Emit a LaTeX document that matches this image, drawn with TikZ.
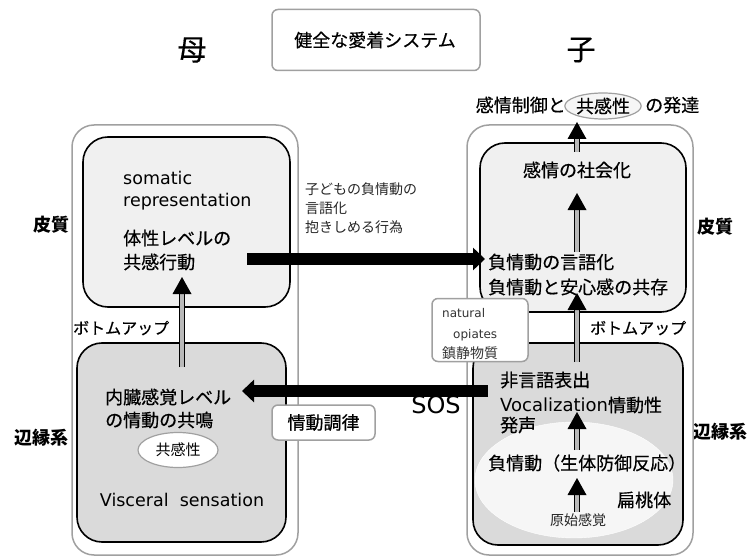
\documentclass[tikz,border=0pt]{standalone}
\usepackage{fontspec}
\setmainfont{Noto Sans CJK JP}
\newfontfamily\jpmed{Noto Sans CJK JP}[FakeBold=0.5]
\newfontfamily\latfont{DejaVu Sans}
\usetikzlibrary{arrows.meta,calc,shapes.geometric}
\definecolor{lightfill}{HTML}{F0F0F0}
\definecolor{darkfill}{HTML}{DADADA}
\definecolor{framegray}{HTML}{A0A0A0}
\definecolor{ellfill}{HTML}{F6F6F6}
\newcommand\dblarrow[2]{%
  \draw[shaftline] (#1) -- ($(#2)+(0,16)$);
  \fill ($(#2)+(-9.5,17)$) -- (#2) -- ($(#2)+(9.5,17)$) -- cycle;}
\tikzset{
  outerbox/.style={draw=framegray, line width=1.5pt, rounded corners=22pt, fill=white},
  innerbox/.style={draw=black, line width=1.6pt, rounded corners=25pt},
  labelbox/.style={draw=framegray, line width=1.5pt, rounded corners=6pt, fill=white, inner sep=0pt},
  bigtxt/.style={font=\jpmed\fontsize{18}{20}\selectfont, inner sep=0pt},
  lattxt/.style={font=\latfont\fontsize{17.5}{20}\selectfont, inner sep=0pt},
  midtxt/.style={font=\jpmed\fontsize{16}{18}\selectfont, inner sep=0pt},
  smalltxt/.style={font=\fontsize{14}{16}\selectfont, text=black!85, inner sep=0pt},
  sidetxt/.style={font=\bfseries\fontsize{18}{20}\selectfont, inner sep=0pt},
  headtxt/.style={font=\jpmed\fontsize{29}{30}\selectfont, inner sep=0pt},
  shaftline/.style={draw=black, line width=1pt, double=gray!55, double distance=3.5pt},
  thickarrow/.style={line width=12pt, -{Triangle[length=12pt,width=22pt]}},
  ovalnode/.style={ellipse, draw=framegray, line width=1.2pt, fill=white, inner sep=0pt}
}
\begin{document}
\begin{tikzpicture}[x=1pt,y=-1pt]
\useasboundingbox (0,0) rectangle (750,559);
% title and heads
\node[labelbox, minimum width=208pt, minimum height=61pt] (title) at (376,40) {};
\node[bigtxt] (titletxt) at (375,40) {健全な愛着システム};
\node[headtxt] (mother) at (192,50) {母};
\node[headtxt] (child) at (581,50) {子};
% side labels
\node[sidetxt] (cortexL) at (51,225) {皮質};
\node[sidetxt] (limbicL) at (41,438) {辺縁系};
\node[sidetxt] (cortexR) at (715,227) {皮質};
\node[sidetxt] (limbicR) at (720,432) {辺縁系};
% outer boxes
\node[outerbox, minimum width=226pt, minimum height=430pt] (Lout) at (185,340) {};
\node[outerbox, minimum width=226pt, minimum height=430pt] (Rout) at (580,340) {};
% inner boxes
\node[innerbox, fill=lightfill, minimum width=207pt, minimum height=170pt] (Lup) at (186.5,222) {};
\node[innerbox, fill=darkfill, minimum width=209pt, minimum height=199pt] (Llow) at (181.5,442.5) {};
\node[innerbox, fill=lightfill, minimum width=206pt, minimum height=169pt] (Rup) at (583,227.5) {};
\node[innerbox, fill=darkfill, minimum width=210pt, minimum height=202pt] (Rlow) at (578,444) {};
\node[ellipse, fill=ellfill, draw=white, minimum width=198pt, minimum height=116pt, inner sep=0pt] (amyg) at (574,480) {};
% left upper texts
\node[lattxt, anchor=west] (somatic) at (123,178) {somatic};
\node[lattxt, anchor=west] (repres) at (123,202) {representation};
\node[bigtxt, anchor=west] (taisei) at (123,238) {体性レベルの};
\node[bigtxt, anchor=west] (kyokan) at (123,262) {共感行動};
% left lower texts
\node[midtxt, anchor=west] (buL) at (73,328) {ボトムアップ};
\node[bigtxt, anchor=west] (naizo) at (105,397) {内臓感覚レベル};
\node[bigtxt, anchor=west] (kyomei) at (105,420) {の情動の共鳴};
\node[ovalnode, minimum width=80pt, minimum height=35pt, font=\fontsize{15}{16}\selectfont] (empL) at (178,450) {共感性};
\node[lattxt] (visceral) at (182,500) {Visceral\ \ sensation};
% middle texts
\node[smalltxt, anchor=west] (m1) at (305,189) {子どもの負情動の};
\node[smalltxt, anchor=west] (m2) at (305,208) {言語化};
\node[smalltxt, anchor=west] (m3) at (305,227) {抱きしめる行為};
\node[labelbox, minimum width=103pt, minimum height=35pt, bigtxt] (chorit) at (323.5,422.5) {情動調律};
\node[font=\latfont\fontsize{24}{26}\selectfont, inner sep=0pt] (sos) at (436,405) {SOS};
% natural opiates
\node[labelbox, minimum width=96pt, minimum height=63pt] (opbox) at (480,330) {};
\node[font=\latfont\fontsize{12}{14}\selectfont, inner sep=0pt, anchor=west, text=black!80] (nat) at (442,313) {natural};
\node[font=\latfont\fontsize{12}{14}\selectfont, inner sep=0pt, anchor=west, text=black!80] (opi) at (453,335) {opiates};
\node[font=\fontsize{14}{15}\selectfont, inner sep=0pt, anchor=west, text=black!80] (chin) at (442,353) {鎮静物質};
% right top
\node[bigtxt, anchor=east] (kansei) at (566,105) {感情制御と};
\node[ovalnode, minimum width=74pt, minimum height=26pt, fill=ellfill, bigtxt] (empR) at (603,106) {共感性};
\node[bigtxt, anchor=west] (hattatsu) at (645,105) {の発達};
% right upper texts
\node[bigtxt] (shakai) at (577,170) {感情の社会化};
\node[bigtxt, anchor=west] (gengo) at (488,262) {負情動の言語化};
\node[bigtxt, anchor=west] (kyozon) at (488,287) {負情動と安心感の共存};
\node[midtxt, anchor=west] (buR) at (590,328) {ボトムアップ};
% right lower texts
\node[bigtxt, anchor=west] (higengo) at (500,380) {非言語表出};
\node[bigtxt, anchor=west] (vocal) at (500,405) {{\latfont Vocalization}情動性};
\node[bigtxt, anchor=west] (hassei) at (500,425) {発声};
\node[bigtxt, anchor=west] (fujodo) at (488,463) {負情動（生体防御反応）};
\node[bigtxt, anchor=west] (hento) at (617,500) {扁桃体};
\node[font=\fontsize{14}{15}\selectfont, inner sep=0pt, text=black!85] (genshi) at (578,520) {原始感覚};
% arrow coordinates
\coordinate (aLs) at (182,367); \coordinate (aLt) at (182,277);
\coordinate (aR1s) at (577,152); \coordinate (aR1t) at (577,122);
\coordinate (aR2s) at (577,252); \coordinate (aR2t) at (577,193);
\coordinate (aR3s) at (577,362); \coordinate (aR3t) at (577,293);
\coordinate (aR4s) at (577,450); \coordinate (aR4t) at (577,412);
\coordinate (aR5s) at (577,512); \coordinate (aR5t) at (577,478);
\dblarrow{aLs}{aLt}
\dblarrow{aR1s}{aR1t}
\dblarrow{aR2s}{aR2t}
\dblarrow{aR3s}{aR3t}
\dblarrow{aR4s}{aR4t}
\dblarrow{aR5s}{aR5t}
% thick horizontal arrows
\coordinate (hAs) at (247,259); \coordinate (hAt) at (485,259);
\coordinate (hBs) at (488,391); \coordinate (hBt) at (242,391);
\draw[thickarrow] (hAs) -- (hAt);
\draw[thickarrow] (hBs) -- (hBt);
\end{tikzpicture}
\end{document}
